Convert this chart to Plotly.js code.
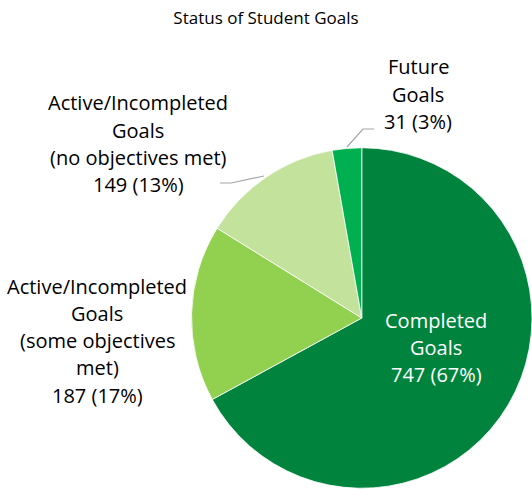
<!DOCTYPE html>
<html>
<head>
<meta charset="utf-8">
<script src="https://cdn.plot.ly/plotly-3.0.1.min.js"></script>
<style>html,body{margin:0;padding:0;background:#fff;}#chart{width:532px;height:489px;}</style>
</head>
<body>
<div id="chart"></div>
<script>
const categories = [
  "Completed<br>Goals",
  "Active/Incompleted<br>Goals<br>(some objectives<br>met)",
  "Active/Incompleted<br>Goals<br>(no objectives met)",
  "Future<br>Goals"
];
const values = [747, 187, 149, 31];
const colors = ["#00843D", "#92D050", "#C3E29B", "#00B050"];
const chartTitle = "Status of Student Goals";

const W = 532, H = 489;
const FONT = "Open Sans, Lato, sans-serif";
const total = values.reduce((a, b) => a + b, 0);

// label placement (centre x, first-line centre y) in pixels, and text colour
const labelPos = [
  {x: 436, y: 320, color: "#FFFFFF"},
  {x: 97,  y: 286, color: "#000000"},
  {x: 138, y: 103, color: "#000000"},
  {x: 418, y: 67,  color: "#000000"}
];
const lineGap = 27.3;

const annotations = [];
categories.forEach((cat, i) => {
  const pct = Math.round(values[i] / total * 100);
  const lines = cat.split("<br>").concat([values[i] + " (" + pct + "%)"]);
  lines.forEach((ln, k) => {
    annotations.push({
      xref: "paper", yref: "paper",
      x: labelPos[i].x / W, y: 1 - (labelPos[i].y + k * lineGap) / H,
      xanchor: "center", yanchor: "middle",
      text: ln, showarrow: false,
      font: {family: FONT, size: 20, color: labelPos[i].color}
    });
  });
});

function px(x, y) { return [x / W, 1 - y / H]; }
function polyPath(pts) {
  return pts.map((p, j) => { const q = px(p[0], p[1]); return (j ? "L" : "M") + q[0] + "," + q[1]; }).join(" ");
}
const shapes = [
  {type: "path", xref: "paper", yref: "paper", path: polyPath([[220,183],[231,183],[264,176]]),
   line: {color: "#A6A6A6", width: 1.2}},
  {type: "path", xref: "paper", yref: "paper", path: polyPath([[374,129],[363,129],[347,147]]),
   line: {color: "#A6A6A6", width: 1.2}}
];

const data = [{
  type: "pie",
  labels: categories,
  values: values,
  sort: false,
  direction: "clockwise",
  rotation: 0,
  textinfo: "none",
  hoverinfo: "label+value+percent",
  marker: {colors: colors, line: {color: "#FFFFFF", width: 0.8}},
  domain: {x: [191.5 / W, 1], y: [0, 342 / H]},
  showlegend: false
}];

const layout = {
  width: W, height: H,
  margin: {l: 0, r: 0, t: 0, b: 0},
  paper_bgcolor: "#FFFFFF",
  title: {text: chartTitle, font: {family: FONT, size: 17, color: "#000000"},
          x: 0.5, xanchor: "center", y: 1 - 18 / H, yanchor: "middle", yref: "container"},
  annotations: annotations,
  shapes: shapes,
  showlegend: false
};

Plotly.newPlot("chart", data, layout, {displayModeBar: false, staticPlot: true});
</script>
</body>
</html>
